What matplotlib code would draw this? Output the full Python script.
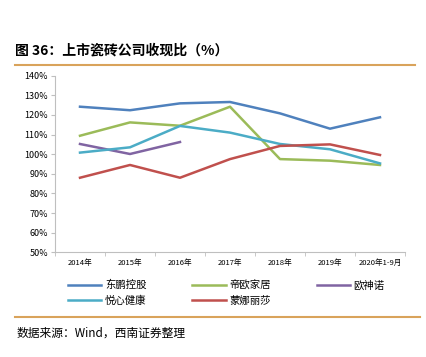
"""
    上市瓷砖公司收现比
"""
import matplotlib
matplotlib.use('Agg')
import matplotlib.pyplot as plt
from matplotlib.lines import Line2D

plt.rcParams['font.family'] = ['Noto Sans CJK SC', 'DejaVu Sans']

# datos
years = ['2014年', '2015年', '2016年', '2017年', '2018年', '2019年', '2020年1-9月']
dongpeng = [124.2, 122.4, 125.9, 126.6, 120.8, 113.0, 118.8]
diou = [109.4, 116.2, 114.5, 124.2, 97.5, 96.7, 94.5]
oushennuo = [105.2, 100.1, 106.2]
yuexin = [100.8, 103.5, 114.4, 111.0, 105.2, 102.5, 95.3]
mengna = [88.0, 94.5, 88.0, 97.5, 104.2, 105.0, 99.6]

names = ['东鹏控股', '帝欧家居', '欧神诺', '悦心健康', '蒙娜丽莎']
colors = ['#4F81BD', '#9BBB59', '#8064A2', '#4BACC6', '#C0504D']
series = [dongpeng, diou, oushennuo, yuexin, mengna]

W, H = 427, 357
fig = plt.figure(figsize=(W / 100, H / 100), dpi=100)

# titulo y lineas
fig.text(15 / W, 1 - 50 / H, '图 36：上市瓷砖公司收现比（%）', fontsize=10,
         fontweight='bold', va='center', ha='left')
fig.add_artist(Line2D([15 / W, 415 / W], [1 - 65 / H, 1 - 65 / H], color='#D9A35B', lw=1.5))
fig.add_artist(Line2D([15 / W, 420 / W], [1 - 317 / H, 1 - 317 / H], color='#D9A35B', lw=1.5))
fig.text(17 / W, 1 - 333 / H, '数据来源：Wind，西南证券整理', fontsize=8.5,
         style='italic', va='center', ha='left')

ax = fig.add_axes([55 / W, 1 - 252.3 / H, 350 / W, (252.3 - 75.7) / H])
handles = []
for name, vals, c in zip(names, series, colors):
    h, = ax.plot(range(len(vals)), vals, color=c, lw=1.8, label=name)
    handles.append(h)

ax.set_xlim(-0.5, len(years) - 0.5)
ax.set_ylim(50, 140)
ax.set_yticks(range(50, 141, 10))
ax.set_yticklabels([f'{v}%' for v in range(50, 141, 10)], fontsize=6.5)
ax.set_xticks(range(len(years)))
ax.set_xticklabels(years, fontsize=5.5)
ax.set_xticks([i - 0.5 for i in range(len(years) + 1)], minor=True)
ax.tick_params(axis='x', which='major', length=0, pad=5)
ax.tick_params(axis='x', which='minor', length=3, color='#BFBFBF')
ax.tick_params(axis='y', length=3, color='#BFBFBF', pad=2)
for s in ['top', 'right']:
    ax.spines[s].set_visible(False)
for s in ['left', 'bottom']:
    ax.spines[s].set_color('#BFBFBF')
    ax.spines[s].set_linewidth(0.8)

# leyenda: fila 1 -> 东鹏, 帝欧, 欧神诺 ; fila 2 -> 悦心, 蒙娜
order = [0, 3, 1, 4, 2]
fig.legend([handles[i] for i in order], [names[i] for i in order], ncol=3,
           loc='upper left', bbox_to_anchor=(68 / W, 1 - 280 / H), frameon=False,
           fontsize=7.5, handlelength=3.2, handletextpad=0.35, columnspacing=4.4,
           labelspacing=0.5, borderaxespad=0, borderpad=0)

fig.savefig('out.png', dpi=100)
